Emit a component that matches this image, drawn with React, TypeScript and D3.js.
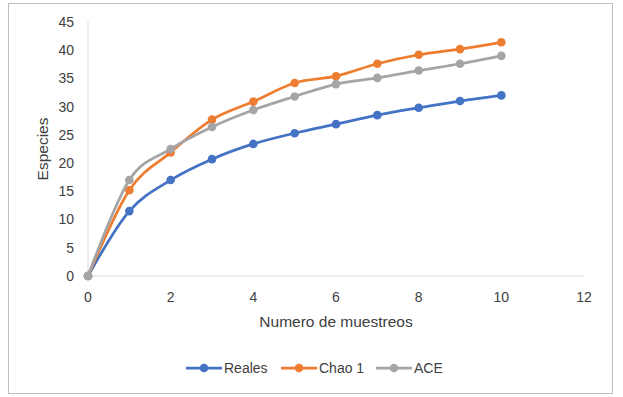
import React, { useEffect, useRef } from "react";
import * as d3 from "d3";

const muestreos = [0, 1, 2, 3, 4, 5, 6, 7, 8, 9, 10];
const reales = [0, 11.5, 17.0, 20.7, 23.4, 25.3, 26.9, 28.5, 29.8, 31.0, 32.0];
const chao1 = [0, 15.2, 21.9, 27.7, 30.9, 34.2, 35.4, 37.6, 39.2, 40.2, 41.4];
const ace = [0, 17.0, 22.5, 26.4, 29.4, 31.8, 34.0, 35.1, 36.4, 37.6, 39.0];
const xTicks = [0, 2, 4, 6, 8, 10, 12];
const yTicks = [0, 5, 10, 15, 20, 25, 30, 35, 40, 45];

const series = [
  { name: "Reales", values: reales, color: "#4472C4" },
  { name: "Chao 1", values: chao1, color: "#ED7D31" },
  { name: "ACE", values: ace, color: "#A5A5A5" },
];

const W = 623,
  H = 397;
const FONT = "'Liberation Sans', Arial, sans-serif";

const App = () => {
  const ref = useRef<SVGSVGElement>(null);

  useEffect(() => {
    const svg = d3.select(ref.current);
    svg.selectAll("*").remove();

    // chart border
    svg
      .append("rect")
      .attr("x", 8.5)
      .attr("y", 3.5)
      .attr("width", 604)
      .attr("height", 390)
      .attr("fill", "white")
      .attr("stroke", "#BFBFBF");

    const x = d3.scaleLinear().domain([0, 12]).range([88, 584]);
    const y = d3.scaleLinear().domain([0, 45]).range([276, 22]);

    // axes lines
    svg
      .append("line")
      .attr("x1", x(0))
      .attr("x2", x(12))
      .attr("y1", y(0))
      .attr("y2", y(0))
      .attr("stroke", "#D9D9D9");
    svg
      .append("line")
      .attr("x1", x(0))
      .attr("x2", x(0))
      .attr("y1", y(0))
      .attr("y2", y(45))
      .attr("stroke", "#D9D9D9");

    const txt = (s: d3.Selection<any, any, any, any>) =>
      s.attr("font-family", FONT).attr("font-size", 14).attr("fill", "#404040");

    svg
      .append("g")
      .selectAll("text")
      .data(yTicks)
      .join("text")
      .call(txt)
      .attr("x", 74)
      .attr("y", (d) => y(d))
      .attr("dy", "0.35em")
      .attr("text-anchor", "end")
      .text((d) => d);

    svg
      .append("g")
      .selectAll("text")
      .data(xTicks)
      .join("text")
      .call(txt)
      .attr("x", (d) => x(d))
      .attr("y", 297)
      .attr("dy", "0.35em")
      .attr("text-anchor", "middle")
      .text((d) => d);

    svg
      .append("text")
      .call(txt)
      .attr("font-size", 15.5)
      .attr("x", (x(0) + x(12)) / 2)
      .attr("y", 322)
      .attr("dy", "0.35em")
      .attr("text-anchor", "middle")
      .text("Numero de muestreos");

    svg
      .append("text")
      .call(txt)
      .attr("font-size", 15.5)
      .attr("transform", `translate(43,${(y(0) + y(45)) / 2}) rotate(-90)`)
      .attr("dy", "0.35em")
      .attr("text-anchor", "middle")
      .text("Especies");

    const line = d3
      .line<number>()
      .x((_, i) => x(muestreos[i]))
      .y((d) => y(d))
      .curve(d3.curveCardinal.tension(0));

    series.forEach((s) => {
      const g = svg.append("g");
      g.append("path")
        .attr("d", line(s.values))
        .attr("fill", "none")
        .attr("stroke", s.color)
        .attr("stroke-width", 2.75)
        .attr("stroke-linecap", "round");
      g.selectAll("circle")
        .data(s.values)
        .join("circle")
        .attr("cx", (_, i) => x(muestreos[i]))
        .attr("cy", (d) => y(d))
        .attr("r", 4.3)
        .attr("fill", s.color);
    });

    // legend
    const legendX = [186, 281, 376];
    const ly = 368;
    series.forEach((s, i) => {
      const g = svg.append("g").attr("transform", `translate(${legendX[i]},${ly})`);
      g.append("line")
        .attr("x1", 0)
        .attr("x2", 36)
        .attr("stroke", s.color)
        .attr("stroke-width", 2.75);
      g.append("circle").attr("cx", 18).attr("r", 4.3).attr("fill", s.color);
      g.append("text")
        .call(txt)
        .attr("x", 38)
        .attr("dy", "0.35em")
        .text(s.name);
    });
  }, []);

  return <svg ref={ref} width={W} height={H} style={{ position: "absolute", left: 0, top: 0 }} />;
};

export default App;
